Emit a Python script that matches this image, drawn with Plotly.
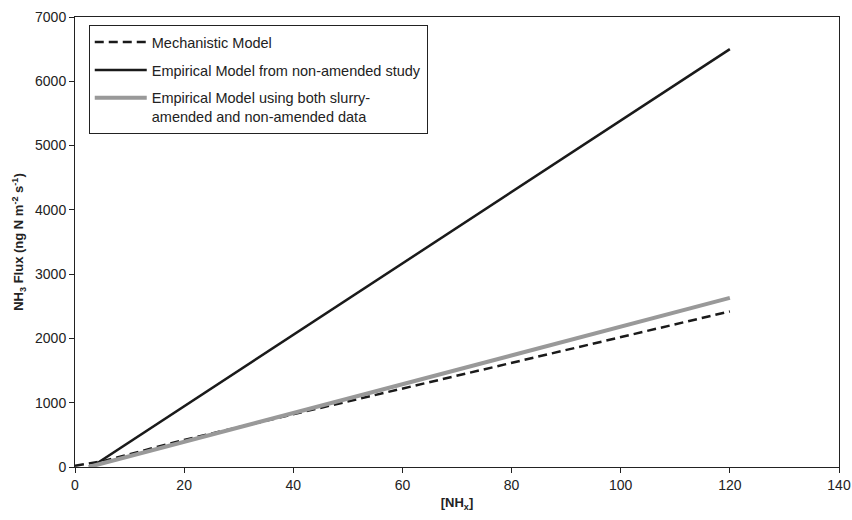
import plotly.graph_objects as go

# Data
mech_x = [0, 5, 20, 40, 60, 80, 100, 120]
mech_y = [20, 90, 420, 820, 1220, 1620, 2020, 2420]

emp_x = [3, 120]
emp_y = [0, 6500]

both_x = [2.5, 120]
both_y = [0, 2630]

names = ["Mechanistic Model",
         "Empirical Model from non-amended study",
         "Empirical Model using both slurry-<br>amended and non-amended data"]

x_ticks = [0, 20, 40, 60, 80, 100, 120, 140]
y_ticks = [0, 1000, 2000, 3000, 4000, 5000, 6000, 7000]

fig = go.Figure()
fig.add_trace(go.Scatter(x=mech_x, y=mech_y, mode="lines", name=names[0],
                         legendgroup="a",
                         line=dict(color="#1a1a1a", width=2.5, dash="9px,5px")))
fig.add_trace(go.Scatter(x=emp_x, y=emp_y, mode="lines", name=names[1],
                         legendgroup="b",
                         line=dict(color="#1a1a1a", width=2.5)))
fig.add_trace(go.Scatter(x=both_x, y=both_y, mode="lines", name=names[2],
                         legendgroup="c",
                         line=dict(color="#999999", width=4)))

font_family = "Liberation Sans, Arial, sans-serif"
fig.update_layout(
    width=852, height=520,
    margin=dict(l=75, r=13, t=17, b=53),
    paper_bgcolor="white", plot_bgcolor="white",
    font=dict(family=font_family, size=14, color="#222222"),
    showlegend=True,
    legend=dict(x=0.018, y=0.982, xanchor="left", yanchor="top",
                bordercolor="#222222", borderwidth=1, bgcolor="white",
                font=dict(size=14.5, color="#222222"), valign="top",
                itemwidth=52, tracegroupgap=6, traceorder="grouped"),
    xaxis=dict(range=[0, 140], tickvals=x_ticks, ticks="outside", ticklen=5,
               tickcolor="#222222", showline=True, linecolor="#222222",
               linewidth=1, mirror=True, showgrid=False, zeroline=False,
               automargin=False,
               title=dict(text="<b>[NH<sub>x</sub>]</b>", font=dict(size=13),
                          standoff=6)),
    yaxis=dict(range=[0, 7000], tickvals=y_ticks, ticks="outside", ticklen=5,
               tickcolor="#222222", showline=True, linecolor="#222222",
               linewidth=1, mirror=True, showgrid=False, zeroline=False,
               automargin=False,
               title=dict(text="<b>NH<sub>3</sub> Flux (ng N m<sup>-2</sup> s<sup>-1</sup>)</b>",
                          font=dict(size=13), standoff=8)),
)

fig.write_html("out.html")
